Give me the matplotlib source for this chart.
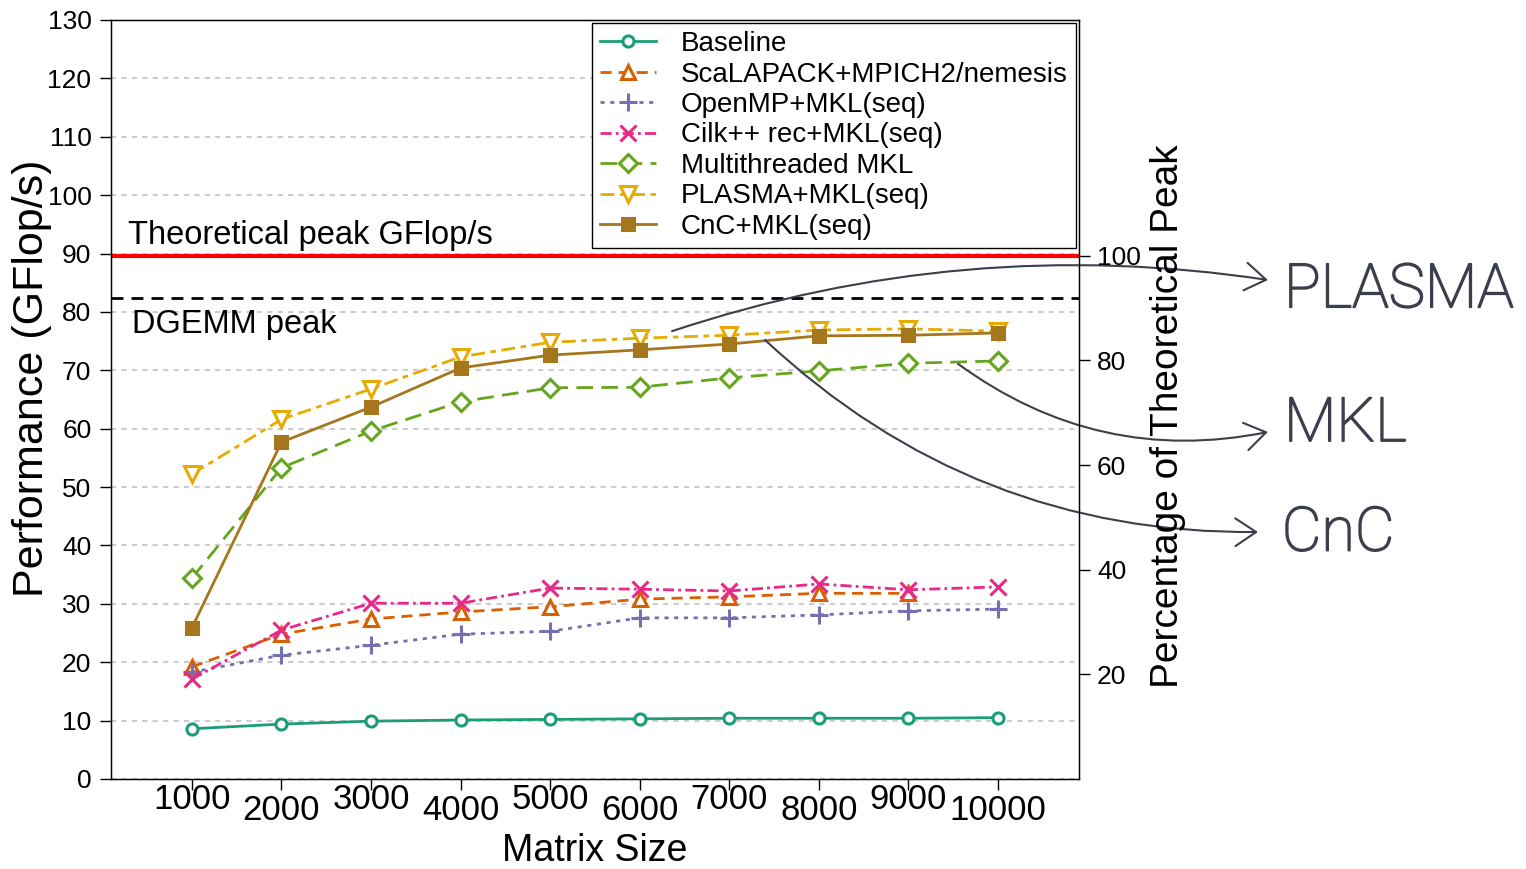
import numpy as np
import matplotlib
matplotlib.use("Agg")
import matplotlib.pyplot as plt
import matplotlib.patheffects as pe

plt.rcParams['font.family'] = ['Liberation Sans', 'DejaVu Sans']

# matrix sizes on the x axis
sizes = [1000, 2000, 3000, 4000, 5000, 6000, 7000, 8000, 9000, 10000]

# GFlop/s per implementation
baseline = [8.6, 9.4, 9.9, 10.1, 10.2, 10.3, 10.4, 10.4, 10.4, 10.5]
scalapack = [19.2, 24.8, 27.4, 28.6, 29.5, 30.8, 31.2, 31.8, 31.8]
openmp = [18.3, 21.2, 22.9, 24.8, 25.3, 27.6, 27.6, 28.1, 28.8, 29.1]
cilk = [17.1, 25.5, 30.1, 30.1, 32.7, 32.5, 32.2, 33.4, 32.4, 32.9]
mkl = [34.4, 53.3, 59.6, 64.6, 67.0, 67.1, 68.7, 69.9, 71.2, 71.6]
plasma = [52.2, 61.6, 66.8, 72.3, 74.8, 75.5, 76.0, 76.9, 77.1, 76.7]
cnc = [25.9, 57.7, 63.7, 70.4, 72.6, 73.5, 74.5, 75.9, 76.0, 76.4]

theo_peak = 89.6
dgemm_peak = 82.4

labels = ['Baseline', 'ScaLAPACK+MPICH2/nemesis', 'OpenMP+MKL(seq)',
          'Cilk++ rec+MKL(seq)', 'Multithreaded MKL', 'PLASMA+MKL(seq)',
          'CnC+MKL(seq)']
series = [baseline, scalapack, openmp, cilk, mkl, plasma, cnc]

colors = ['#1b9e77', '#d95f02', '#7570b3', '#e7298a', '#66a61e', '#e6ab02', '#a6761d']
markers = ['o', '^', '+', 'x', 'D', 'v', 's']
styles = ['-', (0, (4, 2.5)), (0, (1.5, 2)), (0, (4, 1.5, 1, 1.5)),
          (0, (6, 3)), (0, (5, 2, 2, 2)), '-']
msizes = [8, 10, 13, 11, 9, 11, 8]

fig = plt.figure(figsize=(15.26, 8.69), dpi=100)
ax = fig.add_axes([0.0727, 0.1036, 0.6344, 0.8734])

ax.yaxis.grid(True, color='#cccccc', linestyle=(0, (2.5, 2.5)), linewidth=1.5)
ax.set_axisbelow(True)

ax.axhline(theo_peak, color='red', lw=3, zorder=2)
ax.axhline(dgemm_peak, color='black', lw=2, linestyle=(0, (4.3, 2.9)), zorder=2)

for y, lab, col, mk, ls, ms in zip(series, labels, colors, markers, styles, msizes):
    fill = col if mk in ('s', '+', 'x') else 'white'
    ax.plot(sizes[:len(y)], y, color=col, linestyle=ls, lw=2, marker=mk,
            markersize=ms, markerfacecolor=fill, markeredgecolor=col,
            markeredgewidth=2.2, label=lab, zorder=3)

ax.set_xlim(96, 10904)
ax.set_ylim(0, 130)
ax.set_yticks(np.arange(0, 131, 10))
ax.set_xticks(sizes)
ax.set_xticklabels([str(s) for s in sizes])
ax.tick_params(axis='y', direction='out', length=8, width=1, labelsize=19, pad=6)
ax.tick_params(axis='x', direction='out', length=8, width=1, labelsize=25)
for i, tick in enumerate(ax.xaxis.get_major_ticks()):
    tick.set_pad(-5 if i % 2 == 0 else 3)

ax.set_xlabel('Matrix Size', fontsize=27, va='center')
ax.xaxis.set_label_coords(0.5, -0.095)
ax.set_ylabel('Performance (GFlop/s)', fontsize=31, va='center', ha='center')
ax.yaxis.set_label_coords(-0.082, 0.528)

ax.text(0.0176, 91.6, 'Theoretical peak GFlop/s', fontsize=23.5,
        transform=ax.get_yaxis_transform(), va='baseline')
ax.text(0.0217, 76.4, 'DGEMM peak', fontsize=23.5,
        transform=ax.get_yaxis_transform(), va='baseline')

for sp in ax.spines.values():
    sp.set_linewidth(1)

leg = ax.legend(loc='upper right', bbox_to_anchor=(1.0, 1.0), fontsize=20,
                frameon=True, fancybox=False, edgecolor='black', framealpha=1,
                borderaxespad=0.1, labelspacing=0.16, handlelength=2.0,
                handletextpad=0.9, numpoints=1, borderpad=0.3)
leg.get_frame().set_linewidth(1)
leg.set_zorder(5)

# right axis in percent of theoretical peak
ax2 = ax.twinx()
ax2.set_ylim(0, 130 / theo_peak * 100)
ax2.set_yticks([20, 40, 60, 80, 100])
ax2.tick_params(axis='y', direction='out', length=8, width=1, labelsize=19, pad=5)
ax2.set_ylabel('Percentage of Theoretical Peak', fontsize=28, rotation=90,
               va='center', ha='center')
ax2.yaxis.set_label_coords(1.092, 0.478)

# callouts
note_col = '#3b3f4c'
arrow = dict(arrowstyle='->,head_length=0.6,head_width=0.4', mutation_scale=25,
             color=note_col, lw=1.5, shrinkA=0, shrinkB=0)
callouts = [
    ('PLASMA', (6360, 76.7), (0.8309, 0.6778), (0.8414, 0.666), -0.12),
    ('MKL', (9553, 71.1), (0.8309, 0.5029), (0.8414, 0.512), 0.22),
    ('CnC', (7398, 75.2), (0.8244, 0.3878), (0.8400, 0.386), 0.2),
]
for name, start, end, tpos, rad in callouts:
    ax.annotate('', xy=end, xycoords='figure fraction', xytext=start,
                textcoords='data',
                arrowprops=dict(arrow, connectionstyle='arc3,rad=%s' % rad),
                annotation_clip=False)
    fig.text(tpos[0], tpos[1], name, fontsize=44, color=note_col,
             family=['Roboto', 'DejaVu Sans'], fontweight='light',
             va='center', ha='left',
             path_effects=[pe.withStroke(linewidth=1.2, foreground=note_col)])

fig.savefig('out.png', dpi=100)
